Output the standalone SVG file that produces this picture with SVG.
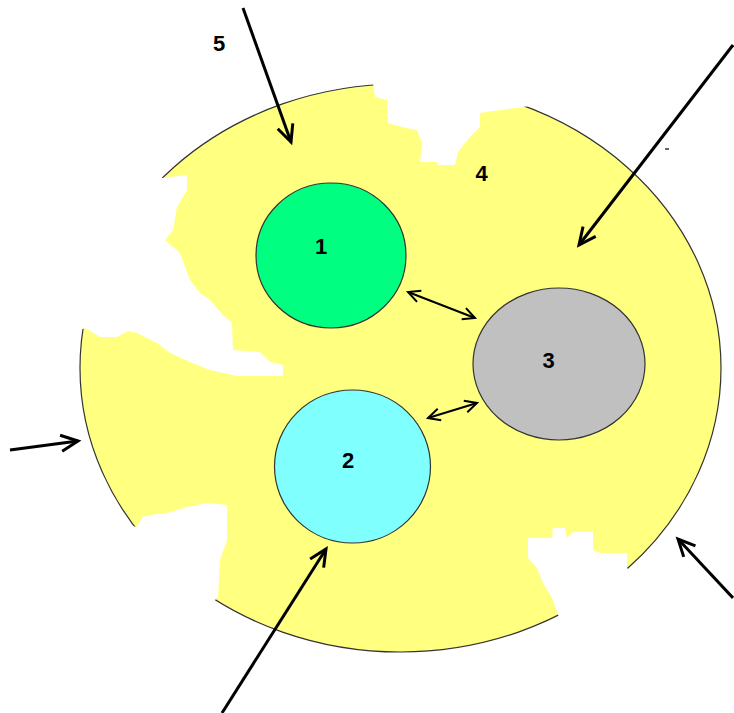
<svg xmlns="http://www.w3.org/2000/svg" width="734" height="713" viewBox="0 0 734 713">
<style>
.lbl{font-family:"Liberation Sans",Arial,sans-serif;font-size:22px;font-weight:bold;fill:#000;text-anchor:middle}
.node{stroke:#333;stroke-width:1.2}
.patch{fill:#fff;stroke:none}
.thick{stroke:#000;stroke-width:3;fill:none;marker-end:url(#ah)}
.thin{stroke:#000;stroke-width:2;fill:none;marker-start:url(#as);marker-end:url(#ae)}
</style>
<defs>
<marker id="ah" markerUnits="userSpaceOnUse" markerWidth="30" markerHeight="30" refX="0" refY="0" viewBox="-20 -15 30 30" orient="auto">
<path d="M-17,-8 L0,0 L-17,8" fill="none" stroke="#000" stroke-width="3"/>
</marker>
<marker id="ae" markerUnits="userSpaceOnUse" markerWidth="24" markerHeight="24" refX="0" refY="0" viewBox="-15 -12 24 24" orient="auto">
<path d="M-12,-6 L0,0 L-12,6" fill="none" stroke="#000" stroke-width="2"/>
</marker>
<marker id="as" markerUnits="userSpaceOnUse" markerWidth="24" markerHeight="24" refX="0" refY="0" viewBox="-9 -12 24 24" orient="auto">
<path d="M12,-6 L0,0 L12,6" fill="none" stroke="#000" stroke-width="2"/>
</marker>
</defs>
<rect width="734" height="713" fill="#fff"/>
<g id="node4">
<ellipse cx="400.5" cy="368" rx="320.5" ry="284" fill="#FFFF80" stroke="#333" stroke-width="1.2"/>
<polygon class="patch" points="373,60 373,83 375,97 387,100 388,123 402,127 417,130 422,143 420,162 437,162 438,165 455,165 458,152 470,137 480,127 480,113 500,110 530,106 530,60"/>
<polygon class="patch" points="140,140 162,178 187,175 187,190 177,207 173,230 165,240 180,253 190,280 200,293 210,300 223,315 232,323 233,350 260,352 270,362 283,365 283,376 237,376 210,370 190,362 170,353 157,343 137,333 128,331 117,337 100,337 85,328 83,329 60,329 60,140"/>
<polygon class="patch" points="100,520 137,527 142,517 150,515 167,513 187,507 207,503 227,505 227,540 220,560 218,597 215,600 200,640 100,640"/>
<polygon class="patch" points="627,568 627,553 600,553 593,550 593,532 573,532 567,538 565,528 553,528 552,538 528,538 528,558 537,568 543,583 552,598 558,615 580,640 660,600"/>
<text class="lbl" x="481.5" y="181">4</text>
</g>
<g id="node1">
<ellipse class="node" cx="331" cy="255.5" rx="75" ry="72.5" fill="#00FF80"/>
<text class="lbl" x="321" y="254">1</text>
</g>
<g id="node2">
<ellipse class="node" cx="352.5" cy="466.5" rx="78" ry="76.5" fill="#80FFFF"/>
<text class="lbl" x="348" y="468">2</text>
</g>
<g id="node3">
<ellipse class="node" cx="559" cy="364" rx="86" ry="76" fill="#C0C0C0"/>
<text class="lbl" x="548.5" y="368">3</text>
</g>
<g id="node5">
<text class="lbl" x="219" y="51">5</text>
</g>
<g id="connectors">
<line class="thick" x1="243" y1="8" x2="291" y2="142"/>
<line class="thick" x1="733" y1="45" x2="579" y2="245"/>
<line class="thick" x1="10" y1="450" x2="78" y2="441"/>
<line class="thick" x1="222" y1="713" x2="326" y2="549"/>
<line class="thick" x1="733" y1="598" x2="678" y2="539"/>
<line class="thin" x1="408" y1="292" x2="475" y2="318"/>
<line class="thin" x1="428" y1="418" x2="477" y2="403"/>
<line x1="665" y1="149" x2="669" y2="149" stroke="#333" stroke-width="1.5"/>
</g>
</svg>
